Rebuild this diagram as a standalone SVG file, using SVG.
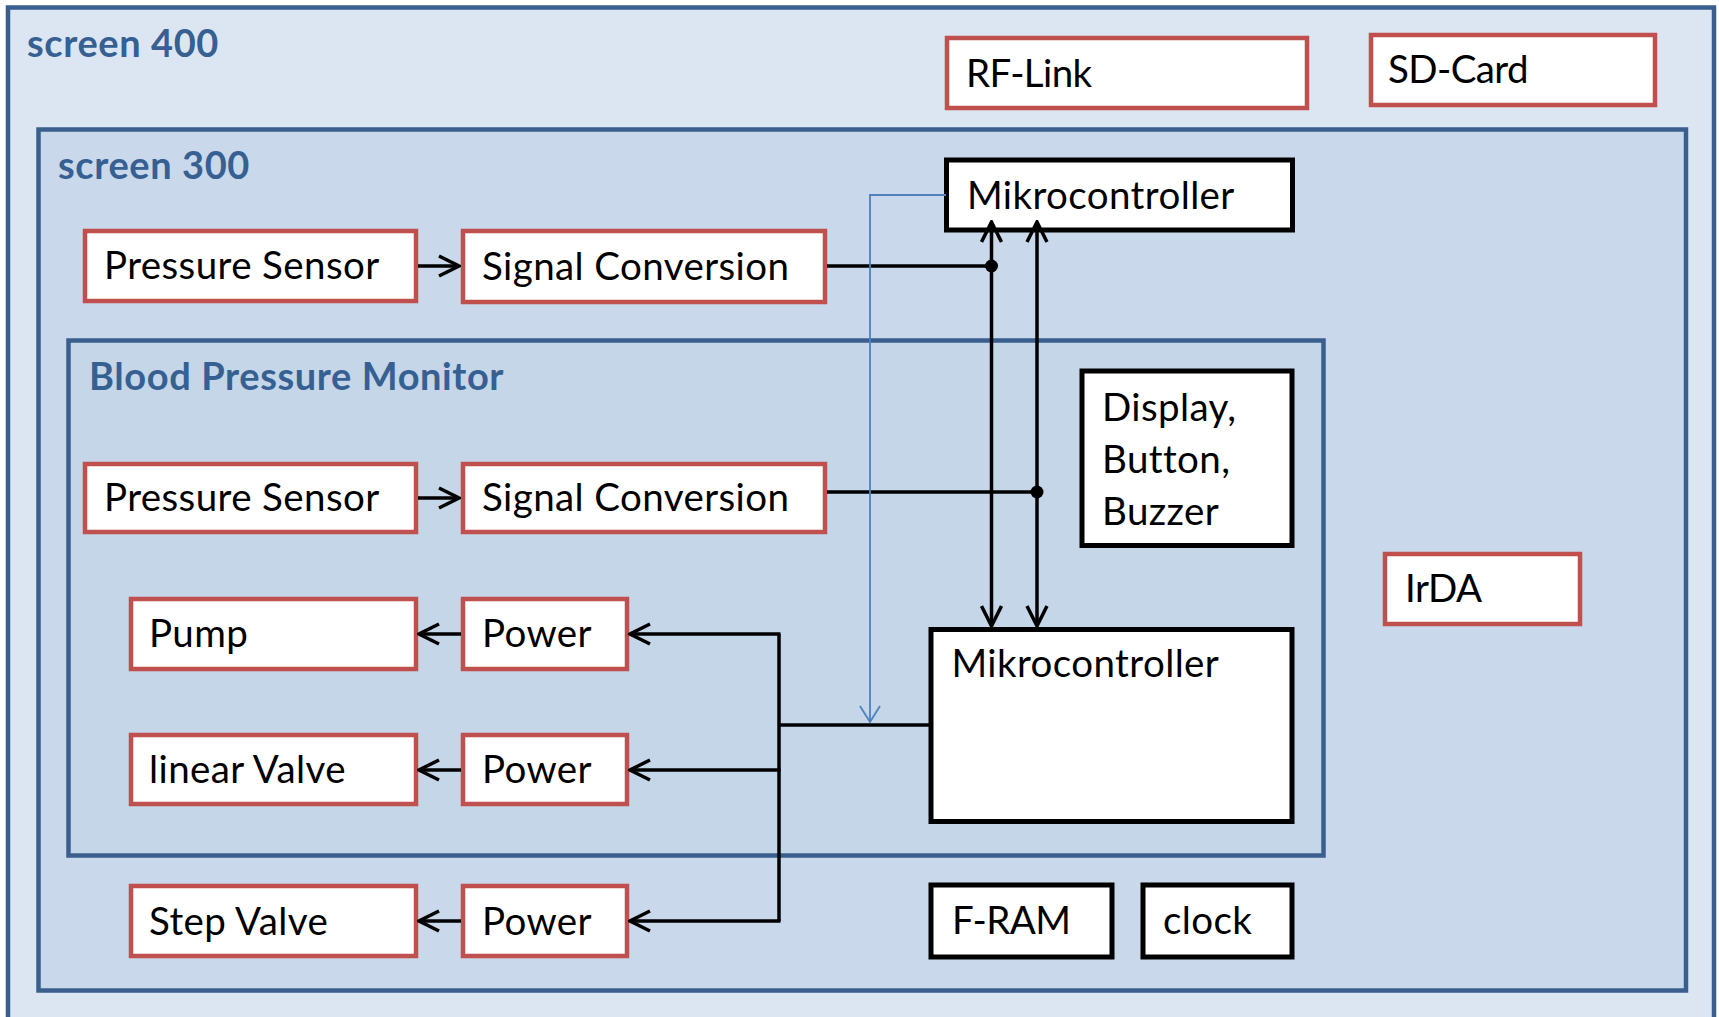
<svg xmlns="http://www.w3.org/2000/svg" width="1719" height="1017" viewBox="0 0 1719 1017">
<defs>
<style>
.frame{stroke:#3A5F8F;stroke-width:4.5}
.red{fill:#FFFFFF;stroke:#C0504D;stroke-width:4.5}
.blk{fill:#FFFFFF;stroke:#000000;stroke-width:5}
.lbl{font-family:Lato,"Open Sans","Liberation Sans",sans-serif;font-size:38.5px;letter-spacing:0.4px;fill:#000000}
.tight{letter-spacing:-0.6px}
.hd{font-family:Lato,"Open Sans","Liberation Sans",sans-serif;font-size:38px;letter-spacing:0.6px;font-weight:bold;fill:#376092}
.wire{fill:none;stroke:#000000;stroke-width:3.5}
.blue{fill:none;stroke:#4F81BD;stroke-width:1.8}
</style>
<marker id="ah" markerUnits="userSpaceOnUse" viewBox="-22 -12 24 24" refX="0" refY="0" markerWidth="24" markerHeight="24" orient="auto-start-reverse">
<path d="M-20,-10 L0,0 L-20,10" fill="none" stroke="#000000" stroke-width="3.5"/>
</marker>
<marker id="ahb" markerUnits="userSpaceOnUse" viewBox="-18 -12 20 24" refX="0" refY="0" markerWidth="20" markerHeight="24" orient="auto">
<path d="M-16,-10 L0,0 L-16,10" fill="none" stroke="#4F81BD" stroke-width="1.8"/>
</marker>
</defs>
<rect x="0" y="0" width="1719" height="1017" fill="#FFFFFF"/>
<g id="screen400">
<rect class="frame" x="8" y="7.5" width="1706" height="1030" fill="#DCE6F2"/>
<text class="hd" x="27" y="57">screen 400</text>
</g>
<g id="screen300">
<rect class="frame" x="38.5" y="129.5" width="1647.5" height="861" fill="#C9D9EB"/>
<text class="hd" x="58" y="179">screen 300</text>
</g>
<g id="bpm">
<rect class="frame" x="68.5" y="340.5" width="1255" height="515" fill="#C5D6E8"/>
<text class="hd" x="89" y="390">Blood Pressure Monitor</text>
</g>
<g id="rflink"><rect class="red" x="947" y="38" width="360" height="70"/><text class="lbl tight" x="966" y="87">RF-Link</text></g>
<g id="sdcard"><rect class="red" x="1371" y="35" width="284" height="70"/><text class="lbl tight" x="1388" y="83">SD-Card</text></g>
<g id="mc-top"><rect class="blk" x="946.5" y="160" width="346" height="70"/><text class="lbl" x="967" y="209">Mikrocontroller</text></g>
<g id="ps-top"><rect class="red" x="85" y="231" width="331" height="70"/><text class="lbl" x="104" y="279">Pressure Sensor</text></g>
<g id="sc-top"><rect class="red" x="463" y="231" width="362" height="71"/><text class="lbl" x="482" y="280">Signal Conversion</text></g>
<g id="ps-in"><rect class="red" x="85" y="464" width="331" height="68"/><text class="lbl" x="104" y="511">Pressure Sensor</text></g>
<g id="sc-in"><rect class="red" x="463" y="464" width="362" height="68"/><text class="lbl" x="482" y="511">Signal Conversion</text></g>
<g id="display"><rect class="blk" x="1082" y="371" width="210" height="174.5"/><text class="lbl" x="1102" y="421">Display,</text><text class="lbl" x="1102" y="473">Button,</text><text class="lbl" x="1102" y="525">Buzzer</text></g>
<g id="irda"><rect class="red" x="1385" y="554" width="195" height="70"/><text class="lbl tight" x="1405" y="602">IrDA</text></g>
<g id="pump"><rect class="red" x="131" y="599" width="285" height="70"/><text class="lbl" x="149" y="647">Pump</text></g>
<g id="power1"><rect class="red" x="463" y="599" width="164" height="70"/><text class="lbl" x="482" y="647">Power</text></g>
<g id="mc-low"><rect class="blk" x="931" y="629.5" width="361" height="192"/><text class="lbl" x="951.5" y="677">Mikrocontroller</text></g>
<g id="linvalve"><rect class="red" x="131" y="735" width="285" height="69"/><text class="lbl" x="149" y="783">linear Valve</text></g>
<g id="power2"><rect class="red" x="463" y="735" width="164" height="69"/><text class="lbl" x="482" y="783">Power</text></g>
<g id="stepvalve"><rect class="red" x="131" y="886" width="285" height="70"/><text class="lbl" x="149" y="935">Step Valve</text></g>
<g id="power3"><rect class="red" x="463" y="886" width="164" height="70"/><text class="lbl" x="482" y="935">Power</text></g>
<g id="fram"><rect class="blk" x="931" y="885" width="181" height="72"/><text class="lbl tight" x="952" y="934">F-RAM</text></g>
<g id="clock"><rect class="blk" x="1143" y="885" width="149" height="72"/><text class="lbl" x="1163" y="934">clock</text></g>
<g id="connectors">
<line class="wire" x1="418" y1="266" x2="459" y2="266" marker-end="url(#ah)"/>
<line class="wire" x1="418" y1="498" x2="459" y2="498" marker-end="url(#ah)"/>
<line class="wire" x1="827" y1="266" x2="991.5" y2="266"/>
<circle cx="991.5" cy="266" r="6.5" fill="#000000"/>
<line class="wire" x1="827" y1="492" x2="1037" y2="492"/>
<circle cx="1037" cy="492" r="6.5" fill="#000000"/>
<line class="wire" x1="991.5" y1="222" x2="991.5" y2="626" marker-start="url(#ah)" marker-end="url(#ah)"/>
<line class="wire" x1="1037" y1="222" x2="1037" y2="626" marker-start="url(#ah)" marker-end="url(#ah)"/>
<polyline class="blue" points="946,195 870,195 870,722" marker-end="url(#ahb)"/>
<line class="wire" x1="931" y1="725" x2="779" y2="725"/>
<line class="wire" x1="779" y1="634" x2="779" y2="921"/>
<line class="wire" x1="780.5" y1="634" x2="630" y2="634" marker-end="url(#ah)"/>
<line class="wire" x1="780.5" y1="770" x2="630" y2="770" marker-end="url(#ah)"/>
<line class="wire" x1="780.5" y1="921" x2="630" y2="921" marker-end="url(#ah)"/>
<line class="wire" x1="461" y1="634" x2="419" y2="634" marker-end="url(#ah)"/>
<line class="wire" x1="461" y1="770" x2="419" y2="770" marker-end="url(#ah)"/>
<line class="wire" x1="461" y1="921" x2="419" y2="921" marker-end="url(#ah)"/>
</g>
</svg>
